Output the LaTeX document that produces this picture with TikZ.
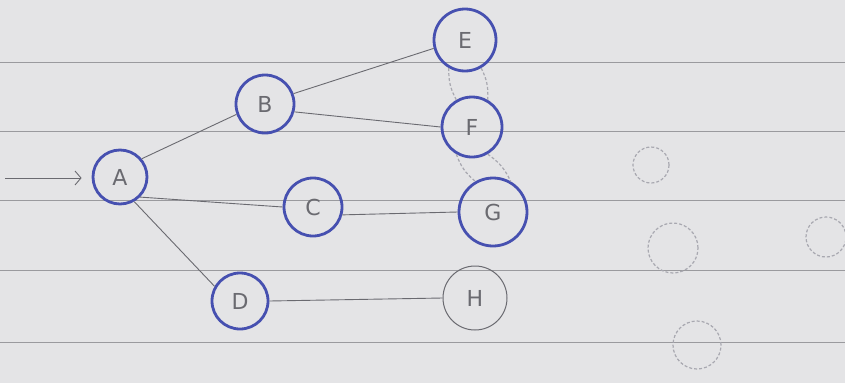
\documentclass[tikz,border=0pt]{standalone}
\usepackage{fontspec}
\setmainfont{DejaVu Sans}
\usetikzlibrary{arrows.meta}
\definecolor{paper}{HTML}{E4E4E6}
\definecolor{rule}{HTML}{9A9A9E}
\definecolor{ink}{HTML}{4650B0}
\definecolor{pencil}{HTML}{6A6A70}
\definecolor{ghost}{HTML}{A8A8B0}
\tikzset{
  vtx/.style={circle, draw=ink, line width=2.8pt, fill=none, text=pencil, font=\fontsize{22}{22}\selectfont, inner sep=0pt},
  vtxp/.style={circle, draw=pencil, line width=1pt, fill=none, text=pencil, font=\fontsize{22}{22}\selectfont, inner sep=0pt},
  edge/.style={draw=pencil, line width=0.9pt},
  ruling/.style={draw=rule, line width=1pt},
  ghostc/.style={draw=ghost, line width=1.2pt, dash pattern=on 3pt off 2pt},
}
\begin{document}
\begin{tikzpicture}[x=1pt,y=-1pt]
\fill[paper] (0,0) rectangle (845,383);
\useasboundingbox (0,0) rectangle (845,383);
% ruled lines
\foreach \yy in {62,131,200,270,342} \draw[ruling] (0,\yy) -- (845,\yy);
% vertices
\node[vtx, minimum size=54pt] (A) at (120,177) {A};
\node[vtx, minimum size=58pt] (B) at (265,104) {B};
\node[vtx, minimum size=58pt] (C) at (313,207) {C};
\node[vtx, minimum size=56pt] (D) at (240,301) {D};
\node[vtx, minimum size=62pt] (E) at (465,40) {E};
\node[vtx, minimum size=60pt] (F) at (472,127) {F};
\node[vtx, minimum size=68pt] (G) at (493,212) {G};
\node[vtxp, minimum size=64pt] (H) at (475,298) {H};
% ghost circles (bleed-through)
\node[circle, ghostc, minimum size=36pt] (g1) at (651,165) {};
\node[circle, ghostc, minimum size=50pt] (g2) at (673,248) {};
\node[circle, ghostc, minimum size=40pt] (g3) at (826,237) {};
\node[circle, ghostc, minimum size=48pt] (g4) at (697,345) {};
\draw[ghostc] (E.-120) to[bend right=15] (F.120);
\draw[ghostc] (E.-60) to[bend left=15] (F.60);
\draw[ghostc] (F.-120) to[bend right=15] (G.120);
\draw[ghostc] (F.-60) to[bend left=15] (G.60);
% entry arrow
\coordinate (s) at (5,178);
\draw[edge, -{Straight Barb[length=6pt,width=14pt]}, shorten >=10pt] (s) -- (s -| A.west);
% edges
\draw[edge] (A.40) -- (B.200);
\draw[edge] (A.-45) -- (C.west);
\draw[edge] (A.-60) -- (D.150);
\draw[edge] (B.20) -- (E.195);
\draw[edge] (B.-15) -- (F.west);
\draw[edge] (C.-15) -- (G.west);
\draw[edge] (D.east) -- (H.west);
\end{tikzpicture}
\end{document}
